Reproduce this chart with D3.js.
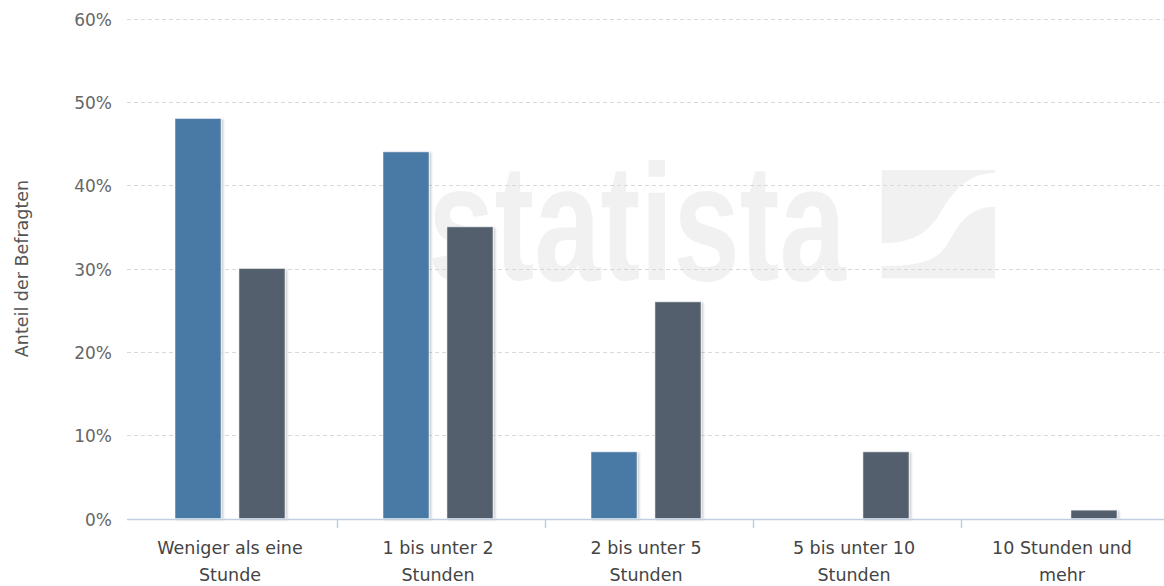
<!DOCTYPE html>
<html>
<head>
<meta charset="utf-8">
<script src="https://cdn.jsdelivr.net/npm/d3@7"></script>
<style>
  html, body { margin: 0; padding: 0; background: #fff; }
  svg { display: block; }
</style>
</head>
<body>
<svg id="chart" width="1164" height="586"></svg>
<script>
// ---- data ----
const categories = [
  "Weniger als eine\nStunde",
  "1 bis unter 2\nStunden",
  "2 bis unter 5\nStunden",
  "5 bis unter 10\nStunden",
  "10 Stunden und\nmehr"
];
const seriesNames = ["Reihe 1", "Reihe 2"];
const seriesBlue = [48, 44, 8, 0, 0];
const seriesDark = [30, 35, 26, 8, 1];
const yTicks = [0, 10, 20, 30, 40, 50, 60];
const yTitle = "Anteil der Befragten";

// ---- layout ----
const W = 1164, H = 586;
const plotLeft = 127, plotRight = 1164;
const y0 = 518.5, yTop = 18.5;
const colors = ["#4a7aa6", "#525f6c"];
const font = "'DejaVu Sans', Verdana, sans-serif";

const svg = d3.select("#chart");

const defs = svg.append("defs");
const f = defs.append("filter").attr("id", "shadow")
  .attr("x", "-20%").attr("y", "-5%").attr("width", "150%").attr("height", "115%");
f.append("feDropShadow").attr("dx", 2).attr("dy", 1).attr("stdDeviation", 1.2)
  .attr("flood-color", "#000").attr("flood-opacity", 0.2);

const x = d3.scaleBand().domain(categories).range([130, 1170]);
const inner = d3.scaleBand().domain(seriesNames).range([45, 155]).paddingInner(0.28);
const y = d3.scaleLinear().domain([0, 60]).range([y0, yTop]);

// ---- watermark ----
const wm = svg.append("g").attr("class", "watermark");
wm.append("text")
  .attr("x", 428).attr("y", 280)
  .attr("font-family", "'Liberation Sans', Arial, sans-serif")
  .attr("font-weight", "bold")
  .attr("font-size", 166)
  .attr("textLength", 418)
  .attr("lengthAdjust", "spacingAndGlyphs")
  .attr("fill", "#f1f1f1")
  .text("statista");
const logo = wm.append("g").attr("transform", "translate(860,160) scale(0.3333)");
logo.append("path").attr("fill", "#f1f1f1")
  .attr("d", "M65,30 L405,30 L405,38 C315,42 275,100 240,160 C205,220 155,250 65,250 Z");
logo.append("path").attr("fill", "#f1f1f1")
  .attr("d", "M405,140 C325,140 295,195 265,248 C232,305 175,318 65,318 L65,355 L405,355 Z");

// ---- grid ----
svg.append("g").selectAll("line").data(yTicks.filter(d => d > 0)).join("line")
  .attr("x1", plotLeft).attr("x2", plotRight)
  .attr("y1", d => Math.round(y(d)) + 0.5).attr("y2", d => Math.round(y(d)) + 0.5)
  .attr("stroke", "#d9d9d9").attr("stroke-width", 1)
  .attr("stroke-dasharray", "4,3");

// ---- y tick labels ----
svg.append("g").selectAll("text").data(yTicks).join("text")
  .attr("x", 112).attr("y", d => y(d) + 7)
  .attr("text-anchor", "end")
  .attr("font-family", font).attr("font-size", 17)
  .attr("fill", "#666")
  .text(d => d + "%");

// ---- y title ----
svg.append("text")
  .attr("transform", `translate(28,${(y0 + yTop) / 2}) rotate(-90)`)
  .attr("text-anchor", "middle")
  .attr("font-family", font).attr("font-size", 17.5)
  .attr("fill", "#555")
  .text(yTitle);

// ---- bars ----
const series = [seriesBlue, seriesDark];
const barsG = svg.append("g");
series.forEach((vals, si) => {
  barsG.append("g").selectAll("rect")
    .data(vals.map((v, i) => ({ v, c: categories[i] })).filter(d => d.v > 0))
    .join("rect")
    .attr("x", d => x(d.c) + inner(seriesNames[si]))
    .attr("width", inner.bandwidth())
    .attr("y", d => y(d.v))
    .attr("height", d => y0 - y(d.v))
    .attr("fill", colors[si])
    .attr("stroke", "rgba(255,255,255,0.5)")
    .attr("stroke-width", 1)
    .attr("filter", "url(#shadow)");
});

// ---- x axis ----
const axisColor = "#c0d0e0";
svg.append("line")
  .attr("x1", plotLeft).attr("x2", plotRight)
  .attr("y1", 519.5).attr("y2", 519.5)
  .attr("stroke", axisColor).attr("stroke-width", 1.5);
svg.append("g").selectAll("line").data(categories.slice(0, -1)).join("line")
  .attr("x1", d => x(d) + x.bandwidth() - 0.5).attr("x2", d => x(d) + x.bandwidth() - 0.5)
  .attr("y1", 519).attr("y2", 528)
  .attr("stroke", axisColor).attr("stroke-width", 1.5);

const labels = svg.append("g").selectAll("text").data(categories).join("text")
  .attr("text-anchor", "middle")
  .attr("font-family", font).attr("font-size", 17.5)
  .attr("fill", "#444");
labels.each(function (d) {
  const cx = x(d) + inner.range()[0] + (inner.range()[1] - inner.range()[0]) / 2;
  d3.select(this).selectAll("tspan").data(d.split("\n")).join("tspan")
    .attr("x", cx)
    .attr("y", (t, i) => 554 + i * 27)
    .text(t => t);
});
</script>
</body>
</html>
